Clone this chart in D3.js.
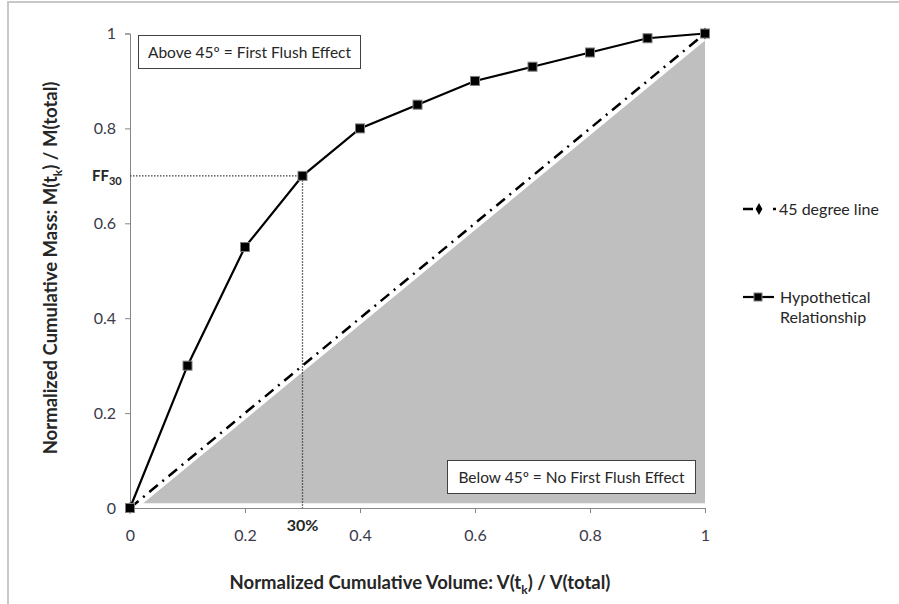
<!DOCTYPE html>
<html lang="en">
<head>
<meta charset="utf-8">
<title>First flush curve</title>
<script src="https://cdn.jsdelivr.net/npm/d3@7"></script>
<style>
  body { margin: 0; background: #fff; }
  text { font-family: Lato, "Open Sans", sans-serif; fill: #262626; }
  .tick text { font-size: 16px; fill: #3a3a4a; }
  .bold { font-weight: bold; }
</style>
</head>
<body>
<script>
var w = 899, h = 604;

// data
var volume = [0, 0.1, 0.2, 0.3, 0.4, 0.5, 0.6, 0.7, 0.8, 0.9, 1.0];
var mass = [0, 0.3, 0.55, 0.7, 0.8, 0.85, 0.9, 0.93, 0.96, 0.99, 1.0];
var lineX = [0, 1];
var lineY = [0, 1];
var shadeX = [0.023, 1, 1];
var shadeY = [0.01, 0.985, 0.01];
var xTicks = [0, 0.2, 0.4, 0.6, 0.8, 1];
var yTicks = [0, 0.2, 0.4, 0.6, 0.8, 1];
var ffX = 0.3, ffY = 0.7;

var x = d3.scaleLinear().domain([0, 1]).range([130, 705]);
var y = d3.scaleLinear().domain([0, 1]).range([508, 33.5]);

var svg = d3.select("body").append("svg")
    .attr("width", w)
    .attr("height", h);

// chart frame
svg.append("rect")
    .attr("x", 8).attr("y", 2)
    .attr("width", 1000).attr("height", 800)
    .attr("fill", "none")
    .attr("stroke", "#c8c8c8")
    .attr("stroke-width", 2);

// shaded triangle
var shade = shadeX.map(function(d, i) { return [x(d), y(shadeY[i])]; });
svg.append("path")
    .attr("d", d3.line()(shade) + "Z")
    .attr("fill", "#bfbfbf");

// axes
var xAxis = d3.axisBottom(x).tickValues(xTicks).tickSize(5).tickPadding(17)
    .tickFormat(function(d) { return d3.format("")(d); });
var yAxis = d3.axisLeft(y).tickValues(yTicks).tickSize(5).tickPadding(9)
    .tickFormat(function(d) { return d3.format("")(d); });

var gx = svg.append("g").attr("transform", "translate(0," + y(0) + ")").call(xAxis);
var gy = svg.append("g").attr("transform", "translate(" + x(0) + ",0)").call(yAxis);
[gx, gy].forEach(function(g) {
  g.select(".domain").attr("stroke", "#868686");
  g.selectAll(".tick line").attr("stroke", "#868686");
});

// dotted guides to FF30
svg.append("path")
    .attr("d", d3.line()([[x(0), y(ffY)], [x(ffX), y(ffY)], [x(ffX), y(0)]]))
    .attr("fill", "none")
    .attr("stroke", "#404040")
    .attr("stroke-width", 1.3)
    .attr("stroke-dasharray", "1.5,1.5");

// 45 degree line
var diag = lineX.map(function(d, i) { return [x(d), y(lineY[i])]; });
svg.append("path")
    .attr("d", d3.line()(diag))
    .attr("fill", "none")
    .attr("stroke", "#000")
    .attr("stroke-width", 2.5)
    .attr("stroke-dasharray", "11,6,2,6");

svg.selectAll(".diam").data(diag).enter().append("path")
    .attr("transform", function(d) { return "translate(" + d + ")"; })
    .attr("d", d3.symbol(d3.symbolDiamond, 40)())
    .attr("fill", "#000");

// hypothetical relationship
var pts = volume.map(function(d, i) { return [x(d), y(mass[i])]; });
svg.append("path")
    .attr("d", d3.line()(pts))
    .attr("fill", "none")
    .attr("stroke", "#000")
    .attr("stroke-width", 2.2);

svg.selectAll(".sq").data(pts).enter().append("rect")
    .attr("x", function(d) { return d[0] - 4.5; })
    .attr("y", function(d) { return d[1] - 4.5; })
    .attr("width", 9).attr("height", 9)
    .attr("fill", "#000")
    .attr("stroke", "#7f7f7f")
    .attr("stroke-width", 1);

// annotation boxes
function box(x0, y0, bw, bh, label) {
  svg.append("rect")
      .attr("x", x0).attr("y", y0)
      .attr("width", bw).attr("height", bh)
      .attr("fill", "#fff")
      .attr("stroke", "#404040")
      .attr("stroke-width", 1);
  svg.append("text")
      .attr("x", x0 + bw / 2).attr("y", y0 + bh / 2 + 5.5)
      .attr("text-anchor", "middle")
      .style("font-size", "15.5px")
      .text(label);
}
box(138.5, 35.5, 222, 33, "Above 45º = First Flush Effect");
box(447.5, 460.5, 248, 33, "Below 45º = No First Flush Effect");

// FF30 and 30% labels
var ff = svg.append("text")
    .attr("class", "bold")
    .attr("x", 92).attr("y", y(ffY) + 5)
    .style("font-size", "15px");
ff.append("tspan").text("FF");
ff.append("tspan").attr("dy", 4).style("font-size", "11px").text("30");

svg.append("text")
    .attr("class", "bold")
    .attr("x", x(ffX)).attr("y", 531)
    .attr("text-anchor", "middle")
    .style("font-size", "16px")
    .text("30%");

// axis titles
var xt = svg.append("text")
    .attr("class", "bold")
    .attr("x", 420).attr("y", 589)
    .attr("text-anchor", "middle")
    .style("font-size", "18.5px");
xt.append("tspan").text("Normalized Cumulative Volume: V(t");
xt.append("tspan").attr("dy", 5).style("font-size", "12px").text("k");
xt.append("tspan").attr("dy", -5).text(") / V(total)");

var yt = svg.append("text")
    .attr("class", "bold")
    .attr("transform", "translate(57,268) rotate(-90)")
    .attr("text-anchor", "middle")
    .style("font-size", "18.5px");
yt.append("tspan").text("Normalized Cumulative Mass: M(t");
yt.append("tspan").attr("dy", 5).style("font-size", "12px").text("k");
yt.append("tspan").attr("dy", -5).text(") / M(total)");

// legend
var lg = svg.append("g").attr("transform", "translate(743,0)");
lg.append("path")
    .attr("d", d3.line()([[0, 209], [33, 209]]))
    .attr("stroke", "#000")
    .attr("stroke-width", 2.5)
    .attr("stroke-dasharray", "10,20,3,20");
lg.append("path")
    .attr("transform", "translate(16,209)")
    .attr("d", d3.symbol(d3.symbolDiamond, 40)())
    .attr("fill", "#000");
lg.append("text").attr("x", 36).attr("y", 214.5)
    .style("font-size", "16px").text("45 degree line");

lg.append("path")
    .attr("d", d3.line()([[0, 297], [31, 297]]))
    .attr("stroke", "#000")
    .attr("stroke-width", 2.2);
lg.append("rect")
    .attr("x", 11).attr("y", 293).attr("width", 8).attr("height", 8)
    .attr("fill", "#000").attr("stroke", "#7f7f7f");
lg.append("text").attr("x", 37).attr("y", 302.5)
    .style("font-size", "16px").text("Hypothetical");
lg.append("text").attr("x", 37).attr("y", 323)
    .style("font-size", "16px").text("Relationship");
</script>
</body>
</html>
